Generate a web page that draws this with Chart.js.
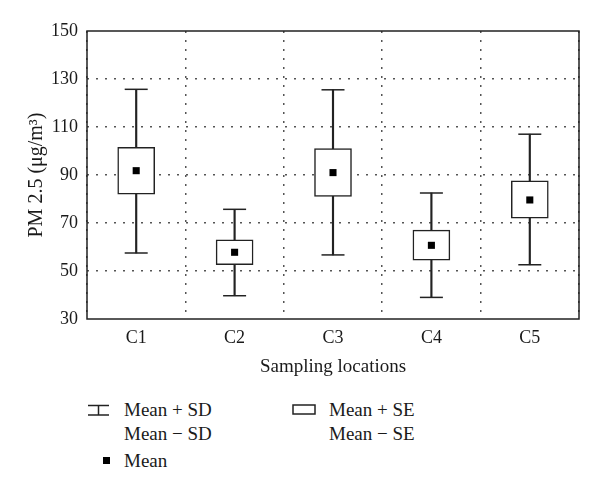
<!DOCTYPE html>
<html>
<head>
<meta charset="utf-8">
<script src="https://cdn.jsdelivr.net/npm/chart.js@4/dist/chart.umd.min.js"></script>
<style>
  body { margin: 0; background: #fff; font-family: "Liberation Serif", serif; color: #1a1a1a; }
  #wrap { position: absolute; left: 0; top: 0; width: 600px; height: 385px; }
  .lg { position: absolute; font-size: 19px; line-height: 20px; white-space: nowrap; }
  .ic { position: absolute; }
</style>
</head>
<body>
<div id="wrap"><canvas id="chart"></canvas></div>

<!-- legend -->
<svg class="ic" style="left:87px;top:404px" width="24" height="13">
  <line x1="1" y1="1.5" x2="22" y2="1.5" stroke="#222" stroke-width="1.5"/>
  <line x1="11.5" y1="1.5" x2="11.5" y2="11" stroke="#222" stroke-width="1.5"/>
  <line x1="1" y1="11" x2="22" y2="11" stroke="#222" stroke-width="1.5"/>
</svg>
<div class="lg" style="left:124px;top:400px">Mean + SD</div>
<div class="lg" style="left:124px;top:424px">Mean − SD</div>
<svg class="ic" style="left:103px;top:457px" width="7" height="7"><rect x="0" y="0" width="7" height="7" fill="#000"/></svg>
<div class="lg" style="left:124px;top:451px">Mean</div>
<svg class="ic" style="left:292px;top:404px" width="25" height="12">
  <rect x="1" y="1" width="22" height="9" fill="#fff" stroke="#222" stroke-width="1.5"/>
</svg>
<div class="lg" style="left:329px;top:400px">Mean + SE</div>
<div class="lg" style="left:329px;top:424px">Mean − SE</div>

<script>
// Data
var locations = ['C1', 'C2', 'C3', 'C4', 'C5'];
var means  = [91.8, 57.8, 91.0, 60.7, 79.6];
var seLow  = [82.0, 52.6, 81.1, 54.5, 72.0];
var seHigh = [101.5, 63.0, 101.0, 67.0, 87.6];
var sdLow  = [57.5, 39.7, 56.7, 39.0, 52.6];
var sdHigh = [125.7, 75.7, 125.5, 82.5, 107.0];
var yTicks = [30, 50, 70, 90, 110, 130, 150];

var ink = '#222';
var serif = '"Liberation Serif", serif';

// frame around the plot area
var frame = {
  id: 'frame',
  afterDraw: function(chart) {
    var a = chart.chartArea, c = chart.ctx;
    c.save();
    c.strokeStyle = ink;
    c.lineWidth = 1.5;
    c.strokeRect(a.left, a.top, a.right - a.left, a.bottom - a.top);
    c.restore();
  }
};

var ctx = document.getElementById('chart').getContext('2d');
var chart = new Chart(ctx, {
  type: 'bar',
  data: {
    labels: locations,
    datasets: [
      {
        type: 'line', label: 'Mean', data: means, showLine: false,
        pointStyle: 'rect', pointRadius: 5, pointBackgroundColor: '#000',
        pointBorderWidth: 0, order: 0
      },
      {
        label: 'Mean ± SE', data: seLow.map(function(v, i) { return [v, seHigh[i]]; }),
        backgroundColor: '#fff', borderColor: ink, borderWidth: 1.5, borderSkipped: false,
        barThickness: 37, grouped: false, order: 1
      },
      {
        type: 'line', label: 'SD cap high', data: sdHigh, showLine: false,
        pointStyle: 'line', pointRadius: 11.5, pointBorderColor: ink, pointBorderWidth: 1.5, order: 1
      },
      {
        type: 'line', label: 'SD cap low', data: sdLow, showLine: false,
        pointStyle: 'line', pointRadius: 11.5, pointBorderColor: ink, pointBorderWidth: 1.5, order: 1
      },
      {
        label: 'Mean ± SD', data: sdLow.map(function(v, i) { return [v, sdHigh[i]]; }),
        backgroundColor: ink, borderWidth: 0, barThickness: 1.5, grouped: false, order: 2
      }
    ]
  },
  options: {
    responsive: true,
    maintainAspectRatio: false,
    animation: false,
    events: [],
    layout: { padding: { left: 21, right: 21, top: 31, bottom: 3 } },
    plugins: { legend: { display: false }, tooltip: { enabled: false } },
    scales: {
      x: {
        afterFit: function(s) { s.height = 63; },
        grid: { offset: true, drawTicks: false, color: '#555', lineWidth: 1.5 },
        border: { display: false, dash: [2, 7] },
        ticks: { color: '#1a1a1a', padding: 8, font: { family: serif, size: 18 } },
        title: { display: true, text: 'Sampling locations', color: '#1a1a1a', font: { family: serif, size: 19 } }
      },
      y: {
        min: yTicks[0], max: yTicks[yTicks.length - 1],
        afterFit: function(s) { s.width = 66; },
        afterBuildTicks: function(s) { s.ticks = yTicks.map(function(v) { return { value: v }; }); },
        grid: {
          drawTicks: false, lineWidth: 1.5,
          color: function(c) { return (c.tick && (c.tick.value === 30 || c.tick.value === 150)) ? 'rgba(0,0,0,0)' : '#555'; }
        },
        border: { display: false, dash: [2, 7] },
        ticks: { color: '#1a1a1a', padding: 9, font: { family: serif, size: 18 } },
        title: { display: true, text: 'PM 2.5 (μg/m³)', color: '#1a1a1a', font: { family: serif, size: 20 } }
      }
    }
  },
  plugins: [frame]
});
</script>
</body>
</html>
